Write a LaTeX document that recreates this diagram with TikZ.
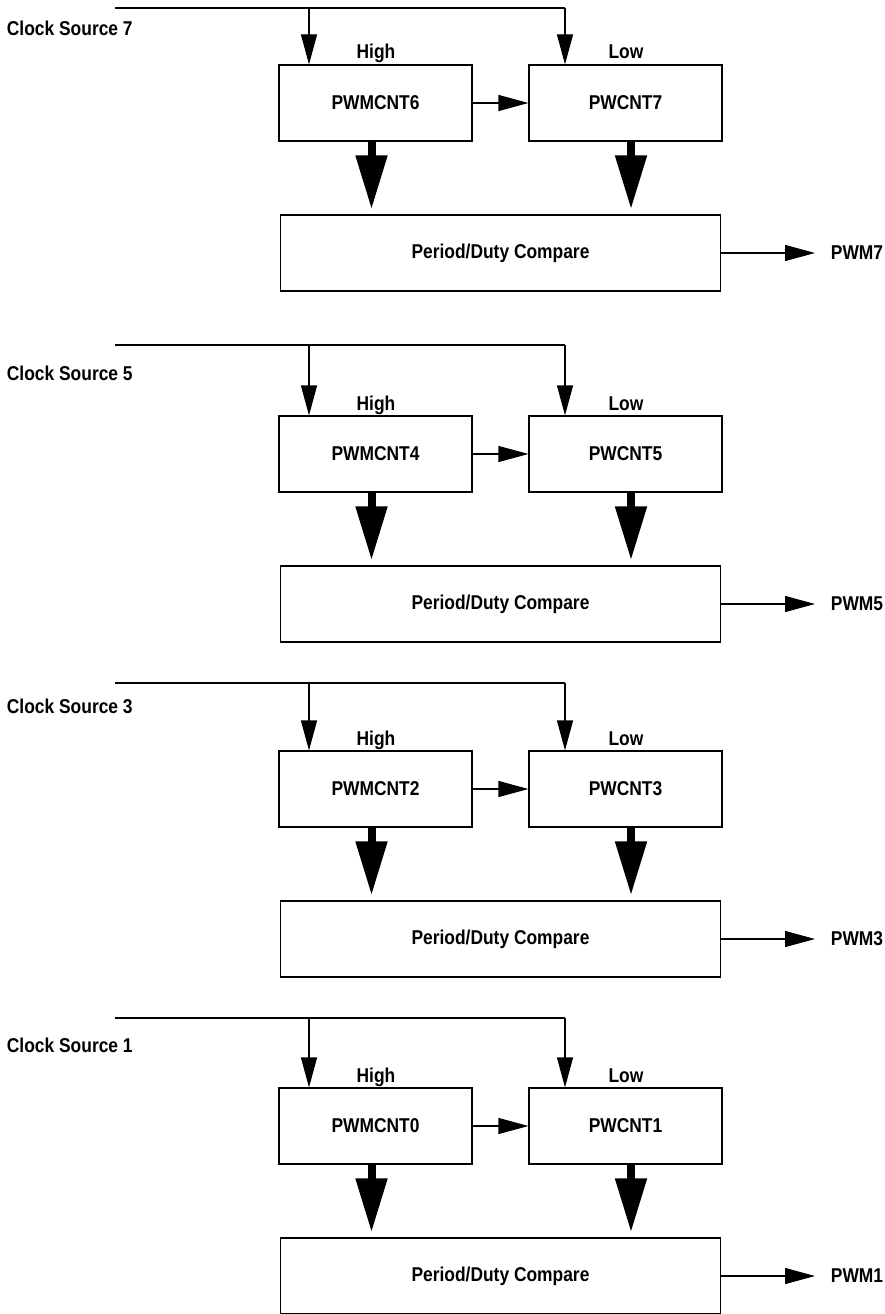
\documentclass[tikz,border=0pt]{standalone}
\usepackage{fontspec}
\setmainfont[FakeStretch=0.87]{Liberation Sans}
\usetikzlibrary{arrows.meta}

\begin{document}
\begin{tikzpicture}[x=1pt, y=-1pt, line width=1.2pt,
   font=\fontsize{20}{24}\selectfont\bfseries,
   counter/.style={draw, minimum width=193pt, minimum height=76pt, inner sep=0pt},
   compare/.style={draw, minimum width=440pt, minimum height=76pt, inner sep=0pt},
   thin/.style={-{Triangle[length=30pt,width=16pt]}},
   fat/.style={line width=8pt, -{Triangle[length=54pt,width=30pt]}, shorten >=5pt}]
   \useasboundingbox (0,0) rectangle (884,1314);
   \foreach \ty/\ly/\lb/\a/\b in {65/8/28/6/7, 416/345/373/4/5, 751/683/706/2/3, 1088/1018/1045/0/1} {
      \node[anchor=west] (clk\b) at (3,\lb) {Clock Source \b};
      \coordinate (src\b) at (115,\ly);
      \coordinate (tapH\a) at (309,\ly);
      \coordinate (tapL\b) at (565,\ly);
      \node[counter] (cnt\a) at (375.5,\ty+38) {PWMCNT\a};
      \node[counter] (cnt\b) at (625.5,\ty+38) {PWCNT\b};
      \node[anchor=base] (high\a) at (376,\ty-6) {High};
      \node[anchor=base] (low\b) at (626,\ty-6) {Low};
      \node[compare] (cmp\b) at (500.5,\ty+188) {Period/Duty Compare};
      \node[anchor=west] (pwm\b) at (827,\ty+188) {PWM\b};
      \path ([xshift=-4pt]cnt\a.south) coordinate (fH\a);
      \path ([xshift=5.5pt]cnt\b.south) coordinate (fL\b);
      \draw (src\b) -- (tapL\b);
      \draw[thin] (tapH\a) -- (tapH\a |- cnt\a.north);
      \draw[thin] (tapL\b) -- (tapL\b |- cnt\b.north);
      \draw[thin] (cnt\a) -- (cnt\b);
      \draw[fat] (fH\a) -- (fH\a |- cmp\b.north);
      \draw[fat] (fL\b) -- (fL\b |- cmp\b.north);
      \draw[thin, shorten >=12pt] (cmp\b) -- (pwm\b);
   }
\end{tikzpicture}
\end{document}
